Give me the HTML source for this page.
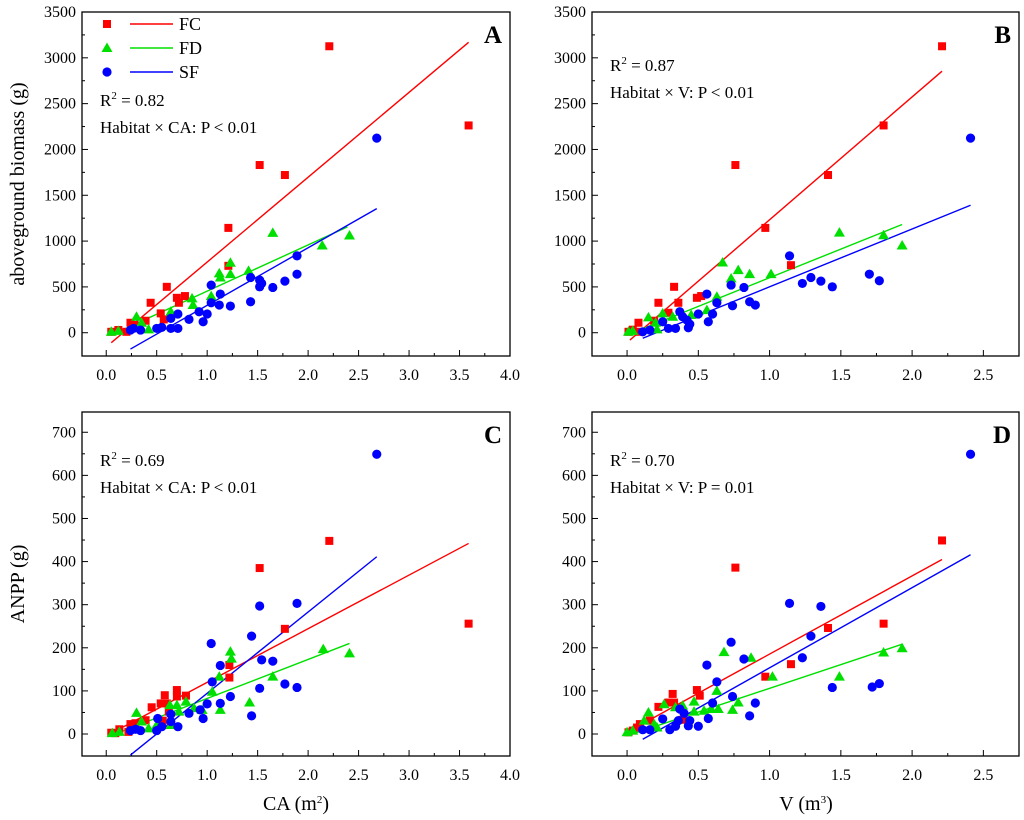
<!DOCTYPE html>
<html><head><meta charset="utf-8"><style>
body{margin:0;background:#fff;}
svg{display:block;}
svg text{font-family:"Liberation Serif","Times New Roman",serif;}
</style></head><body>
<svg id="chart" width="1024" height="820" viewBox="0 0 1024 820" font-family="Liberation Serif, serif" xmlns="http://www.w3.org/2000/svg"></svg>
<script>
// ---- Panel A: aboveground biomass vs CA ----
const aFCx=[0.05,0.12,0.2,0.24,0.28,0.39,0.44,0.54,0.57,0.6,0.7,0.72,0.78,1.21,1.21,1.52,1.77,2.21,3.59];
const aFCy=[10,30,10,109,84,131,327,211,145,501,381,327,400,730,1144,1830,1721,3126,2262];
const aFDx=[0.05,0.12,0.30,0.35,0.42,0.64,0.85,0.86,1.04,1.12,1.13,1.23,1.23,1.41,1.65,2.14,2.41];
const aFDy=[10,20,174,109,37,229,375,302,400,647,603,763,639,675,1089,952,1061];
const aSFx=[0.24,0.27,0.34,0.50,0.55,0.64,0.64,0.71,0.71,0.82,0.92,0.96,1.0,1.04,1.04,1.12,1.13,1.23,1.43,1.43,1.52,1.52,1.54,1.65,1.77,1.89,1.89,2.68];
const aSFy=[29,47,29,47,58,47,157,47,204,146,229,120,204,327,520,302,422,291,338,603,574,501,538,494,563,639,839,2124];
// ---- Panel B: aboveground biomass vs V ----
const bFCx=[0.01,0.04,0.08,0.09,0.19,0.22,0.29,0.33,0.36,0.49,0.52,0.76,0.97,1.15,1.41,1.80,2.21];
const bFCy=[10,33,109,10,131,327,218,501,327,381,400,1830,1144,737,1721,2262,3126];
const bFDx=[0.01,0.04,0.15,0.2,0.21,0.25,0.32,0.45,0.56,0.63,0.67,0.73,0.78,0.86,1.01,1.49,1.80,1.93];
const bFDy=[10,20,167,109,37,211,174,193,247,392,766,592,683,639,639,1093,1064,952];
const bSFx=[0.11,0.16,0.25,0.29,0.34,0.37,0.39,0.42,0.43,0.44,0.50,0.56,0.57,0.60,0.63,0.73,0.74,0.82,0.86,0.90,1.14,1.23,1.29,1.36,1.44,1.70,1.77,2.41];
const bSFy=[10,29,120,47,47,229,174,138,54,94,204,422,120,204,327,520,294,494,338,302,839,538,603,563,501,639,567,2124];
// ---- Panel C: ANPP vs CA ----
const cFCx=[0.05,0.09,0.13,0.22,0.24,0.29,0.39,0.45,0.54,0.58,0.60,0.62,0.56,0.70,0.70,0.79,1.22,1.22,1.52,1.77,2.21,3.59];
const cFCy=[3,2,11,5,23,25,32,62,71,90,71,52,31,102,87,89,160,131,385,244,448,256];
const cFDx=[0.06,0.13,0.30,0.35,0.42,0.50,0.63,0.64,0.70,0.72,0.79,0.87,0.95,1.05,1.12,1.13,1.23,1.24,1.42,1.65,2.15,2.41];
const cFDy=[2,5,49,29,13,21,67,21,67,52,75,60,56,98,133,56,191,175,73,133,197,187];
const cSFx=[0.24,0.29,0.34,0.50,0.51,0.55,0.64,0.64,0.71,0.82,0.93,0.96,1.0,1.05,1.04,1.13,1.13,1.23,1.44,1.44,1.52,1.52,1.54,1.65,1.77,1.89,1.89,2.68];
const cSFy=[8,11,8,8,36,17,29,46,17,48,56,36,70,121,210,71,159,87,42,227,106,297,172,169,116,108,303,649];
// ---- Panel D: ANPP vs V ----
const dFCx=[0.01,0.04,0.07,0.09,0.16,0.22,0.29,0.32,0.33,0.39,0.49,0.51,0.76,0.97,1.15,1.41,1.80,2.21];
const dFCy=[4,8,15,23,31,63,73,93,73,33,102,89,386,133,162,246,256,449];
const dFDx=[0.0,0.04,0.12,0.15,0.19,0.21,0.26,0.34,0.39,0.47,0.47,0.54,0.59,0.63,0.64,0.68,0.74,0.78,0.87,1.02,1.49,1.80,1.93];
const dFDy=[4,8,31,50,23,15,69,62,66,52,75,54,58,100,58,190,56,73,177,133,133,189,199];
const dSFx=[0.11,0.16,0.25,0.30,0.34,0.36,0.37,0.40,0.43,0.44,0.50,0.57,0.56,0.60,0.63,0.73,0.74,0.82,0.86,0.90,1.14,1.23,1.29,1.36,1.44,1.72,1.77,2.41];
const dSFy=[10,10,35,10,18,31,58,48,19,31,18,36,160,72,121,213,87,174,42,72,303,177,227,296,108,109,117,649];
// fitted lines: [x0, x1, slope, intercept] for FC, FD, SF
const aFits=[[0.05,3.59,926,-155],[0.05,2.39,504,-50],[0.24,2.68,628,-329]];
const bFits=[[0.02,2.21,1340,-107],[0.0,1.93,625,-25],[0.11,2.41,631,-130]];
const cFits=[[0.02,3.59,124.4,-4.5],[0.02,2.41,90.4,-7.8],[0.24,2.68,188.5,-94]];
const dFits=[[0.0,2.21,181.4,4],[0.0,1.93,110,-4],[0.11,2.41,186,-32.5]];
// tick labels
const caTicks=["0.0","0.5","1.0","1.5","2.0","2.5","3.0","3.5","4.0"];
const vTicks=["0.0","0.5","1.0","1.5","2.0","2.5"];
const bioTicks=["0","500","1000","1500","2000","2500","3000","3500"];
const anppTicks=["0","100","200","300","400","500","600","700"];

const NS="http://www.w3.org/2000/svg";
const svg=document.getElementById('chart');
const FONT="Liberation Serif, Times New Roman, serif";
function mk(tag,attrs,parent){const e=document.createElementNS(NS,tag);for(const k in attrs)e.setAttribute(k,attrs[k]);if(tag==='text')e.setAttribute('font-family',FONT);(parent||svg).appendChild(e);return e;}
function sup(parent,pre,s,post){
  parent.appendChild(document.createTextNode(pre));
  const a=document.createElementNS(NS,'tspan');a.setAttribute('dy','-7');a.setAttribute('font-size','11');a.textContent=s;parent.appendChild(a);
  const b=document.createElementNS(NS,'tspan');b.setAttribute('dy','7');b.textContent=post;parent.appendChild(b);
}
const COL={FC:"#ff0000",FD:"#00e000",SF:"#0000ff"};

function panel(id,box,xr,yr,xt,yt,xstep,ystep,sets,fits,letter,r2,hab,textY){
  const g=mk('g',{});
  
  
  const X=v=>box.l+(v-xr[0])/(xr[1]-xr[0])*(box.r-box.l);
  const Y=v=>box.b-(v-yr[0])/(yr[1]-yr[0])*(box.b-box.t);
  const frame=mk('rect',{x:box.l,y:box.t,width:box.r-box.l,height:box.b-box.t,fill:'none',stroke:'#000','stroke-width':1.3},g);
  
  
  xt.forEach((lab,i)=>{
    const v=i*xstep, x=X(v);
    const t=mk('line',{x1:x,x2:x,y1:box.b,y2:box.b-6,stroke:'#000','stroke-width':1},g);
    
    
    const mx=X(v+xstep/2);
    if(mx<box.r-1){const m=mk('line',{x1:mx,x2:mx,y1:box.b,y2:box.b-3,stroke:'#000','stroke-width':1},g);
    
    }
    const tx=mk('text',{x:x,y:box.b+24,'text-anchor':'middle','font-size':16},g);tx.textContent=lab;
    
    
  });
  yt.forEach((lab,i)=>{
    const v=i*ystep, y=Y(v);
    const t=mk('line',{x1:box.l,x2:box.l+6,y1:y,y2:y,stroke:'#000','stroke-width':1},g);
    
    
    const my=Y(v+ystep/2);
    if(my>box.t+1){const m=mk('line',{x1:box.l,x2:box.l+3,y1:my,y2:my,stroke:'#000','stroke-width':1},g);
    
    }
    const my2=Y(v-ystep/2);
    if(i==0&&my2<box.b-1){const m=mk('line',{x1:box.l,x2:box.l+3,y1:my2,y2:my2,stroke:'#000','stroke-width':1},g);
    
    }
    const tx=mk('text',{x:box.l-6,y:y+5,'text-anchor':'end','font-size':16},g);tx.textContent=lab;
    
    
  });
  const names=['FC','FD','SF'];
  fits.forEach((f,k)=>{
    const l=mk('line',{x1:X(f[0]),y1:Y(f[2]*f[0]+f[3]),x2:X(f[1]),y2:Y(f[2]*f[1]+f[3]),stroke:COL[names[k]],'stroke-width':1.4},g);
    
    
  });
  sets.forEach((s,k)=>{
    const c=COL[names[k]];
    s[0].forEach((xv,i)=>{
      const px=X(xv),py=Y(s[1][i]);let m;
      if(k==0)m=mk('rect',{x:px-4,y:py-4,width:8,height:8,fill:c},g);
      else if(k==1)m=mk('polygon',{points:`${px},${py-5.5} ${px-5.5},${py+4} ${px+5.5},${py+4}`,fill:c},g);
      else m=mk('circle',{cx:px,cy:py,r:4.6,fill:c},g);
      
      
    });
  });
  const L=mk('text',{x:box.r-8,y:box.t+31,'text-anchor':'end','font-size':25,'font-weight':'bold'},g);L.textContent=letter;
  
  
  const r=mk('text',{x:box.l+18,y:textY,'font-size':17},g);
  sup(r,'R','2',' = '+r2);
  
  
  const h=mk('text',{x:box.l+18,y:textY+27,'font-size':17},g);h.textContent=hab;
  
  
}
panel('a',{l:82,r:510,t:12,b:356},[-0.24,4.0],[-254,3500],caTicks,bioTicks,0.5,500,
  [[aFCx,aFCy],[aFDx,aFDy],[aSFx,aSFy]],aFits,'A','0.82','Habitat × CA: P < 0.01',106);
panel('b',{l:592,r:1019,t:12,b:356},[-0.246,2.75],[-254,3500],vTicks,bioTicks,0.5,500,
  [[bFCx,bFCy],[bFDx,bFDy],[bSFx,bSFy]],bFits,'B','0.87','Habitat × V: P < 0.01',71);
panel('c',{l:82,r:510,t:412,b:756},[-0.24,4.0],[-51,747],caTicks,anppTicks,0.5,100,
  [[cFCx,cFCy],[cFDx,cFDy],[cSFx,cSFy]],cFits,'C','0.69','Habitat × CA: P < 0.01',466);
panel('d',{l:592,r:1019,t:412,b:756},[-0.246,2.75],[-51,747],vTicks,anppTicks,0.5,100,
  [[dFCx,dFCy],[dFDx,dFDy],[dSFx,dSFy]],dFits,'D','0.70','Habitat × V: P = 0.01',466);

const legNames=['FC','FD','SF'];
legNames.forEach((n,k)=>{
  const y=24+k*24,c=COL[n];let m;
  if(k==0)m=mk('rect',{x:103,y:y-4,width:8,height:8,fill:c});
  else if(k==1)m=mk('polygon',{points:`107,${y-5.5} 101.5,${y+4} 112.5,${y+4}`,fill:c});
  else m=mk('circle',{cx:107,cy:y,r:4.6,fill:c});
  
  
  const l=mk('line',{x1:130,x2:173,y1:y,y2:y,stroke:c,'stroke-width':1.4});
  
  
  const t=mk('text',{x:179,y:y+6,'font-size':18});t.textContent=n;
  
  
});
const t1=mk('text',{x:0,y:0,'font-size':20,'text-anchor':'middle',transform:'translate(24,184) rotate(-90)'});t1.textContent='aboveground biomass (g)';


const t2=mk('text',{x:0,y:0,'font-size':20,'text-anchor':'middle',transform:'translate(24,584) rotate(-90)'});t2.textContent='ANPP (g)';


const t3=mk('text',{x:296,y:810,'font-size':20,'text-anchor':'middle'});sup(t3,'CA (m','2',')');


const t4=mk('text',{x:806,y:810,'font-size':20,'text-anchor':'middle'});sup(t4,'V (m','3',')');


</script>
</body></html>
